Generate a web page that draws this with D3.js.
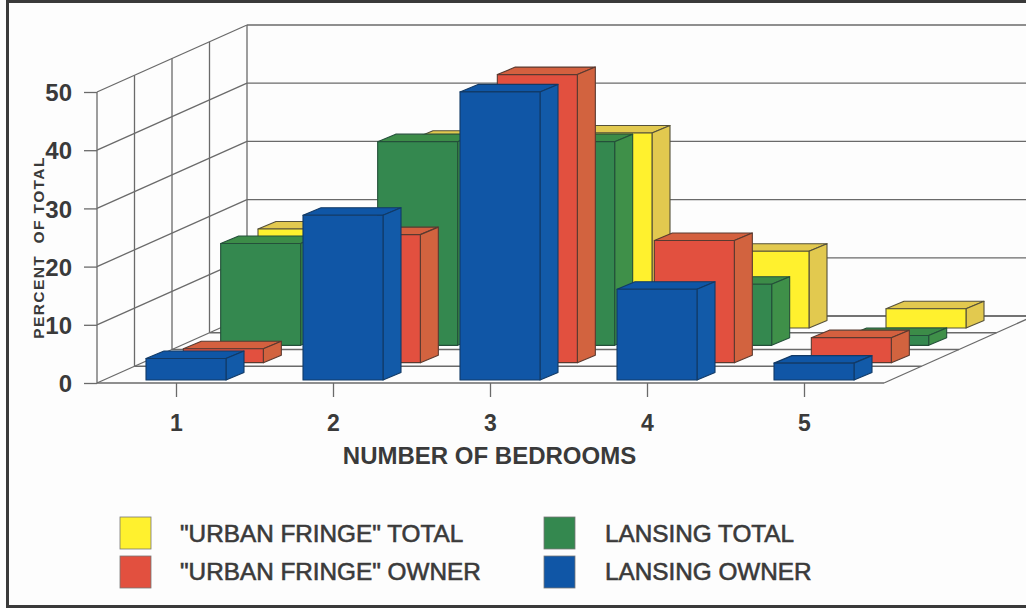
<!DOCTYPE html>
<html>
<head>
<meta charset="utf-8">
<script src="https://cdn.jsdelivr.net/npm/d3@7"></script>
<style>
  html, body { margin: 0; padding: 0; background: #fff; }
  svg { display: block; }
  text { font-family: "Liberation Sans", Arial, sans-serif; font-weight: bold; fill: #3a3a3a; }
</style>
</head>
<body>
<svg id="chart" width="1026" height="608"></svg>
<script>
// Share of dwellings by number of bedrooms, front row to back row
const categories = ["1", "2", "3", "4", "5"];
const lansingOwner = [3.7, 28.3, 49.5, 15.6, 2.9];
const fringeOwner = [2.4, 22, 49.5, 21, 4.3];
const lansingTotal = [17.5, 35, 35, 10.5, 1.7];
const fringeTotal = [17, 32.6, 33.5, 13.2, 3.3];
const valueTicks = [0, 10, 20, 30, 40, 50];
const rowNames = ["LANSING OWNER", "\"URBAN FRINGE\" OWNER", "LANSING TOTAL", "\"URBAN FRINGE\" TOTAL"];

const rows = [
  { values: lansingOwner, front: "#1056a6", top: "#0f56a6", side: "#125aa8", edge: "#123a66" },
  { values: fringeOwner, front: "#e2503f", top: "#d4603f", side: "#d2633f", edge: "#5a3a30" },
  { values: lansingTotal, front: "#34884f", top: "#3c8c48", side: "#3f9049", edge: "#24503a" },
  { values: fringeTotal, front: "#fff12e", top: "#e2c94f", side: "#e2c94f", edge: "#55513a" }
];

const svg = d3.select("#chart");
svg.append("rect").attr("width", 1026).attr("height", 608).attr("fill", "#fdfdfd");

// Oblique projection: the floor recedes up and to the right
const x = d3.scalePoint().domain(categories).range([176, 804]);
const y = d3.scaleLinear().domain([0, 50]).range([383, 92]);
const depthX = d3.scaleLinear().domain([0, 1]).range([0, 150]);
const depthY = d3.scaleLinear().domain([0, 1]).range([0, -67]);
const rowX = d3.scaleLinear().domain([0, 3]).range([0, 112]);
const rowY = d3.scaleLinear().domain([0, 3]).range([0, -52]);

const wallLeft = 97;
const floorRight = 884;
const barWidth = 80, barOffset = 30, baseLift = 3;
const barDepthX = 18, barDepthY = 7.5;

svg.append("clipPath").attr("id", "inside")
  .append("rect").attr("x", 9).attr("y", 3).attr("width", 1017).attr("height", 603);

const grid = svg.append("g").attr("clip-path", "url(#inside)")
  .attr("fill", "none").attr("stroke", "#6a6a6a").attr("stroke-width", 1.3);

const seg = (x1, y1, x2, y2) => grid.append("line")
  .attr("x1", x1).attr("y1", y1).attr("x2", x2).attr("y2", y2);

// Value gridlines along the side wall and the back wall
valueTicks.forEach(v => {
  const ey = y(v) + depthY(1), ex = wallLeft + depthX(1);
  seg(wallLeft, y(v), ex, ey);
  seg(ex, ey, floorRight + depthX(1), ey);
});

// Depth divisions on the side wall and the floor
d3.range(0, 5).forEach(i => {
  const d = i / 4;
  seg(wallLeft + depthX(d), y(0) + depthY(d), wallLeft + depthX(d), y(50) + depthY(d));
  seg(wallLeft + depthX(d), y(0) + depthY(d), floorRight + depthX(d), y(0) + depthY(d));
});
seg(floorRight, y(0), floorRight + depthX(1), y(0) + depthY(1));

// Bars are painted back row first so nearer ones overlap them
const barRows = svg.append("g").selectAll("g")
  .data(rows.map((r, i) => ({ ...r, row: i })).reverse())
  .join("g");

barRows.each(function (r) {
  const g = d3.select(this);
  categories.forEach((c, i) => {
    const h = y(0) - y(r.values[i]);
    const x0 = x(c) - barOffset + rowX(r.row);
    const base = y(0) - baseLift + rowY(r.row);
    const x1 = x0 + barWidth, top = base - h;
    const dx = barDepthX, dy = barDepthY;
    const bar = g.append("g").attr("stroke", r.edge).attr("stroke-width", 1.1).attr("stroke-linejoin", "round");
    bar.append("polygon").attr("fill", r.top)
      .attr("points", [[x0, top], [x1, top], [x1 + dx, top - dy], [x0 + dx, top - dy]].join(" "));
    bar.append("polygon").attr("fill", r.side)
      .attr("points", [[x1, top], [x1 + dx, top - dy], [x1 + dx, base - dy], [x1, base]].join(" "));
    bar.append("rect").attr("fill", r.front)
      .attr("x", x0).attr("y", top).attr("width", barWidth).attr("height", h);
  });
});

// Axes
const yAxis = svg.append("g").attr("transform", `translate(${wallLeft},0)`)
  .call(d3.axisLeft(y).tickValues(valueTicks).tickSize(13).tickPadding(12));
yAxis.select(".domain").remove();
yAxis.selectAll("line").attr("stroke", "#6a6a6a").attr("stroke-width", 1.3);
yAxis.selectAll("text").style("font-size", "24px").attr("dy", "0.36em");

const xAxis = svg.append("g").attr("transform", `translate(0,${y(0)})`)
  .call(d3.axisBottom(x).tickSize(14).tickPadding(18));
xAxis.select(".domain").remove();
xAxis.selectAll("line").attr("stroke", "#6a6a6a").attr("stroke-width", 1.3);
xAxis.selectAll("text").style("font-size", "23px").attr("dy", "0.71em");

svg.append("text")
  .attr("transform", "translate(44,247.5) rotate(-90)")
  .attr("text-anchor", "middle").style("font-size", "15.5px").style("letter-spacing", "1.4px")
  .attr("xml:space", "preserve")
  .text("PERCENT  OF TOTAL");

svg.append("text")
  .attr("x", 489.5).attr("y", 464).attr("text-anchor", "middle").style("font-size", "24px")
  .text("NUMBER OF BEDROOMS");

// Legend in two columns
const legendCols = [{ box: 120, label: 180 }, { box: 544, label: 605 }];
const legendLines = [{ box: 517, base: 541.5 }, { box: 556, base: 580 }];
const legendItems = [
  { row: 3, col: 0, line: 0 }, { row: 1, col: 0, line: 1 },
  { row: 2, col: 1, line: 0 }, { row: 0, col: 1, line: 1 }
];
const legend = svg.append("g");
legendItems.forEach(it => {
  legend.append("rect")
    .attr("x", legendCols[it.col].box).attr("y", legendLines[it.line].box)
    .attr("width", 31).attr("height", 32)
    .attr("fill", rows[it.row].front).attr("stroke", "#777").attr("stroke-width", 0.8);
  legend.append("text")
    .attr("x", legendCols[it.col].label).attr("y", legendLines[it.line].base)
    .style("font-size", "24.3px").style("font-weight", "normal")
    .attr("stroke", "#3a3a3a").attr("stroke-width", 0.6)
    .text(rowNames[it.row]);
});

// Frame on the top, left and bottom of the figure
svg.append("path").attr("d", "M1026,1.5H7.5V606.5H1026")
  .attr("fill", "none").attr("stroke", "#3a3a3a").attr("stroke-width", 3);
</script>
</body>
</html>
